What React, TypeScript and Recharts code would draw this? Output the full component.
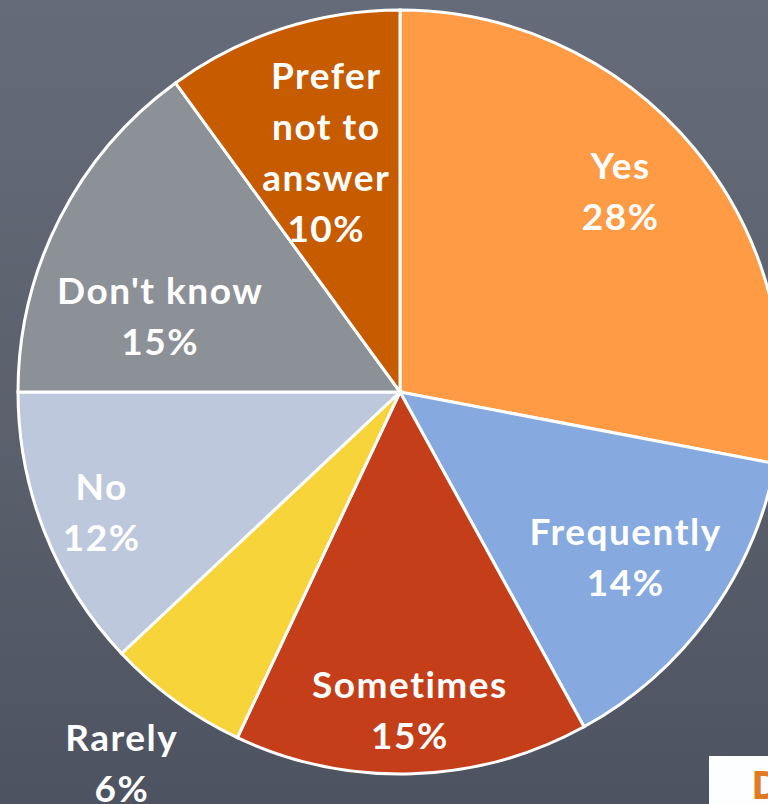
import React from 'react';
import { PieChart, Pie, Cell } from 'recharts';

const categories = ['Yes', 'Frequently', 'Sometimes', 'Rarely', 'No', "Don't know", 'Prefer not to answer'];
const percentages = [28, 14, 15, 6, 12, 15, 10];
const sliceColors = ['#FF9A45', '#86A9DF', '#C43E1A', '#F6D43A', '#BDC8DC', '#8C9097', '#C65B00'];
// how each label is broken into lines
const labelLines = [['Yes'], ['Frequently'], ['Sometimes'], ['Rarely'], ['No'], ["Don't know"], ['Prefer', 'not to', 'answer']];

const data = categories.map((name, i) => ({ name, value: percentages[i] }));

// label distance from centre, as a share of the outer radius
const labelRadius = [0.785, 0.73, 0.83, 1.21, 0.84, 0.66, 0.66];
const labelAngleShift = [3, 0, 0, -1, 0, 9, -1];

const RADIAN = Math.PI / 180;

const renderLabel = (props: any) => {
  const { cx, cy, midAngle, outerRadius, index } = props;
  const r = outerRadius * labelRadius[index];
  const a = (midAngle + labelAngleShift[index]) * RADIAN;
  const x = cx + r * Math.cos(a);
  const y = cy - r * Math.sin(a);
  const lines = [...labelLines[index], `${percentages[index]}%`];
  const lh = 51;
  const top = y - ((lines.length - 1) * lh) / 2;
  return (
    <text
      x={x}
      y={top}
      fill="#FFFFFF"
      textAnchor="middle"
      dominantBaseline="central"
      fontFamily="Lato, 'Open Sans', sans-serif"
      fontWeight={700}
      fontSize={37}
      letterSpacing={1.5}
      style={{ fontVariantLigatures: 'none' }}
    >
      {lines.map((l, i) => (
        <tspan key={i} x={x} y={top + i * lh}>
          {l}
        </tspan>
      ))}
    </text>
  );
};

export default function App() {
  return (
    <div
      style={{
        position: 'absolute',
        left: 0,
        top: 0,
        width: 768,
        height: 804,
        overflow: 'hidden',
        background: 'linear-gradient(to bottom, #656b78 0%, #5b616d 50%, #4d5360 100%)',
      }}
    >
      <PieChart width={768} height={804} margin={{ top: 0, right: 0, bottom: 0, left: 0 }}>
        <Pie
          data={data}
          dataKey="value"
          nameKey="name"
          cx={400}
          cy={392}
          outerRadius={382}
          startAngle={90}
          endAngle={-270}
          stroke="#FFFFFF"
          strokeWidth={3}
          label={renderLabel}
          labelLine={false}
          isAnimationActive={false}
        >
          {data.map((d, i) => (
            <Cell key={d.name} fill={sliceColors[i]} />
          ))}
        </Pie>
      </PieChart>
      <div
        style={{
          position: 'absolute',
          left: 709,
          top: 756,
          width: 70,
          height: 60,
          background: '#FDFEFF',
          overflow: 'hidden',
        }}
      >
        <span
          style={{
            position: 'absolute',
            left: 42,
            top: 4,
            color: '#E07A26',
            fontFamily: "'Open Sans', sans-serif",
            fontWeight: 700,
            fontSize: 40,
            lineHeight: '48px',
          }}
        >
          D
        </span>
      </div>
    </div>
  );
}
